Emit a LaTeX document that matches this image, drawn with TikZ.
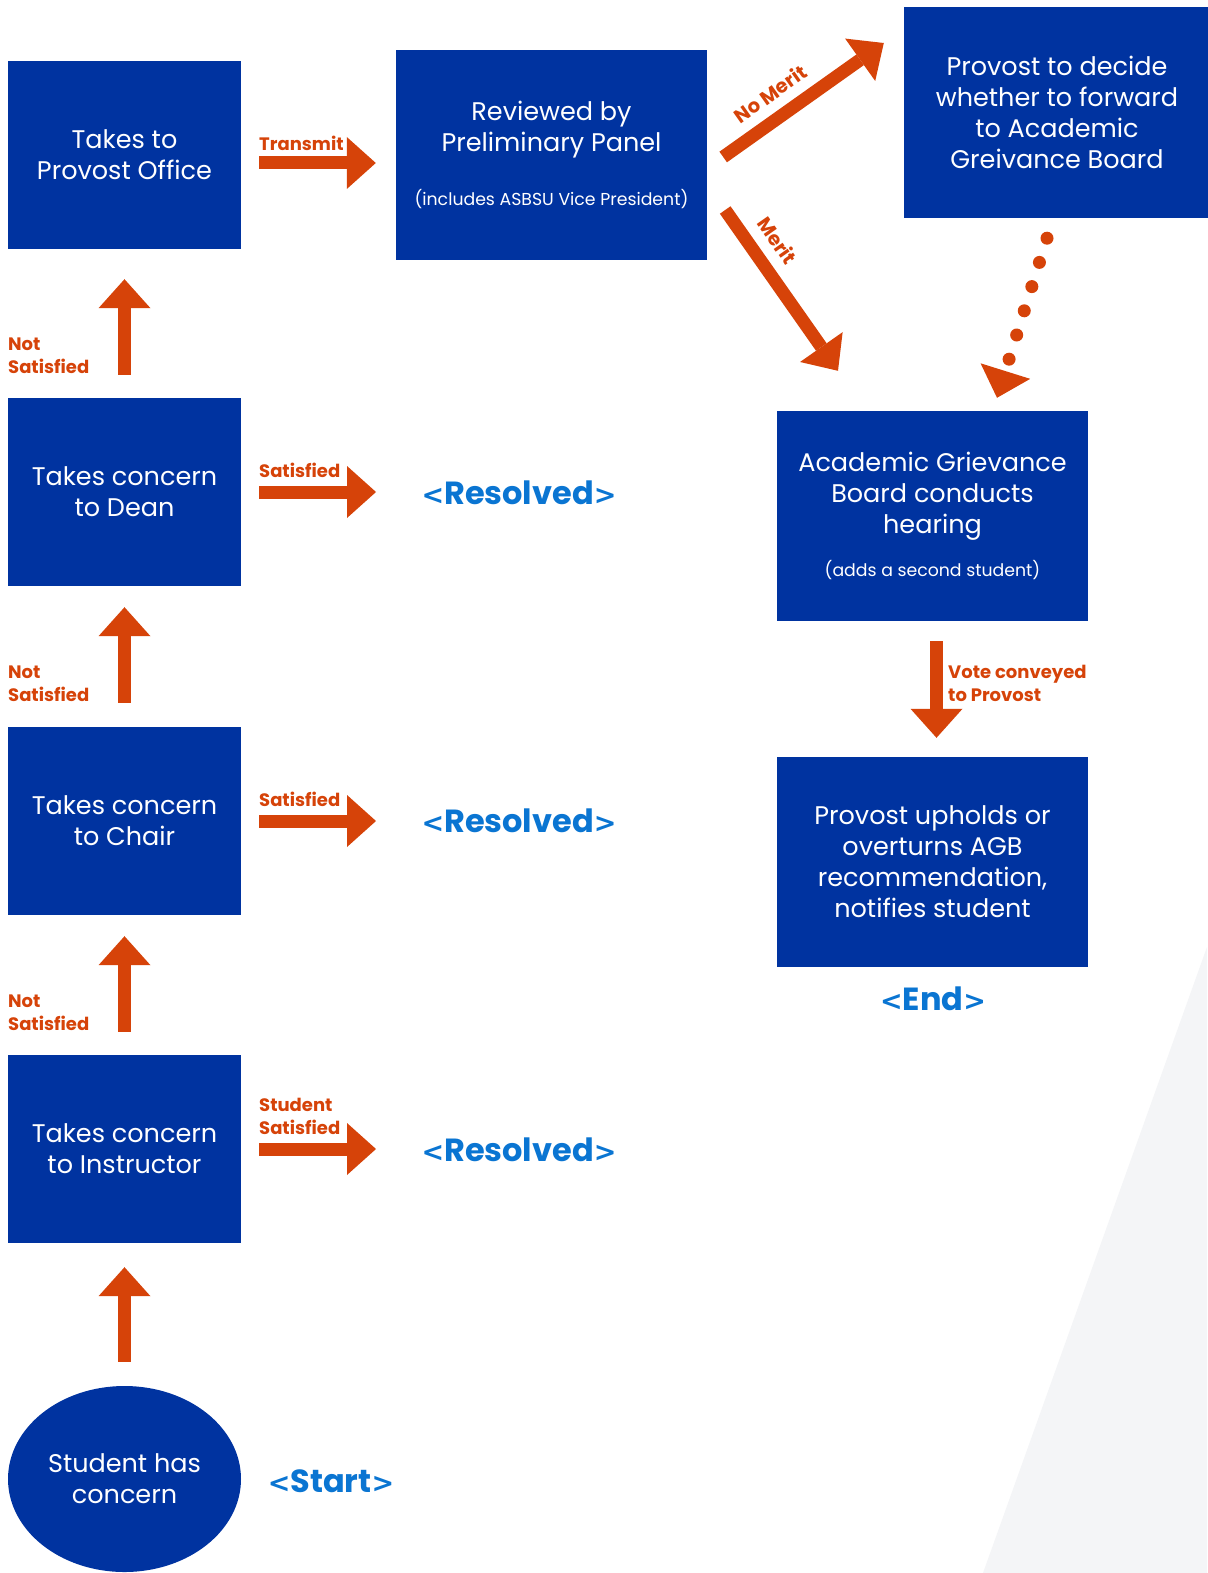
\documentclass[tikz,border=0pt]{standalone}
\usepackage{fontspec}
\setmainfont{Poppins}
\newfontfamily\chevfont{DejaVu Sans}
\usetikzlibrary{arrows.meta,calc,shapes.geometric}
\definecolor{bsblue}{HTML}{0033A0}
\definecolor{bsorange}{HTML}{D64309}
\definecolor{bslight}{HTML}{0A75D2}
\definecolor{bsgray}{HTML}{F4F5F7}
\newcommand\smallnote{\fontsize{17.3}{31}\selectfont}
\newcommand\chevL{{\chevfont\bfseries\fontsize{27}{38}\selectfont<}}
\newcommand\chevR{{\chevfont\bfseries\fontsize{27}{38}\selectfont>}}
\tikzset{
  box/.style={rectangle, fill=bsblue, text=white, inner sep=0pt, align=center,
    font=\fontsize{25.5}{31}\selectfont},
  lbox/.style={box, minimum width=233pt, minimum height=188pt},
  rbox/.style={box, minimum width=311pt, minimum height=210pt},
  lab/.style={text=bsorange, font=\bfseries\fontsize{18}{23}\selectfont, inner sep=0pt, align=left},
  dlab/.style={lab, font=\bfseries\fontsize{19.5}{23}\selectfont},
  res/.style={text=bslight, font=\bfseries\fontsize{32}{38}\selectfont, inner sep=0pt},
  bigarr/.style={draw=bsorange, line width=13pt,
    -{Triangle[length=29pt,width=52pt,line width=0pt]}},
  dotarr/.style={draw=bsorange, line width=13pt, line cap=round,
    dash pattern=on 0pt off 25.36pt,
    -{Triangle[length=28pt,width=52pt,line width=0pt]}},
}
\begin{document}
\begin{tikzpicture}[x=1pt,y=-1pt]
\useasboundingbox (0,0) rectangle (1207,1573);
\fill[white] (0,0) rectangle (1207,1573);
\fill[bsgray] (1207,947) -- (983,1573) -- (1207,1573) -- cycle;

% left column
\node[lbox] (prov)  at (124.5,155)  {Takes to\\Provost Office};
\node[lbox] (dean)  at (124.5,492)  {Takes concern\\to Dean};
\node[lbox] (chair) at (124.5,821)  {Takes concern\\to Chair};
\node[lbox] (instr) at (124.5,1149) {Takes concern\\to Instructor};
\node[ellipse, fill=bsblue, text=white, inner sep=0pt, align=center,
      font=\fontsize{25.5}{31}\selectfont, minimum width=233pt, minimum height=186pt]
      (circ) at (124.5,1479) {Student has\\concern};

% other boxes
\node[rbox] (panel) at (551.5,155) {Reviewed by\\Preliminary Panel\\[23pt]{\smallnote (includes ASBSU Vice President)}};
\node[box, minimum width=306pt, minimum height=211pt] (decide) at (1057,112.5)
  {Provost to decide\\whether to forward\\to Academic\\Greivance Board};
\node[rbox] (agb) at (932.5,516) {Academic Grievance\\Board conducts\\hearing\\[12pt]{\smallnote (adds a second student)}};
\node[rbox] (uph) at (932.5,862) {Provost upholds or\\overturns AGB\\recommendation,\\notifies student};

% status texts
\node[res] (r1) at (519,493)  {\chevL Resolved\chevR};
\node[res] (r2) at (519,821)  {\chevL Resolved\chevR};
\node[res] (r3) at (519,1150) {\chevL Resolved\chevR};
\node[res] (st) at (331,1481) {\chevL Start\chevR};
\node[res] (en) at (933,999)  {\chevL End\chevR};

% vertical arrows on the left
\draw[bigarr, shorten <=24pt, shorten >=24pt] (circ.north) -- (instr.south);
\draw[bigarr, shorten <=23pt, shorten >=21pt] (instr.north) -- (chair.south);
\draw[bigarr, shorten <=24pt, shorten >=21pt] (chair.north) -- (dean.south);
\draw[bigarr, shorten <=23pt, shorten >=30pt] (dean.north) -- (prov.south);

% horizontal arrows
\draw[bigarr, shorten <=18pt, shorten >=20pt] ([yshift=-8pt]prov.east) -- ([yshift=-8pt]panel.west);
\draw[bigarr, shorten <=18pt, shorten >=143pt] (dean.east) -- (dean.east -| r1.center);
\draw[bigarr, shorten <=18pt, shorten >=143pt] (chair.east) -- (chair.east -| r2.center);
\draw[bigarr, shorten <=18pt, shorten >=143pt] (instr.east) -- (instr.east -| r3.center);

% labels
\node[lab, anchor=west] (lt) at (259,143) {Transmit};
\node[lab, anchor=west] (l1) at (8,355.5) {Not\\Satisfied};
\node[lab, anchor=west] (l2) at (8,683.5) {Not\\Satisfied};
\node[lab, anchor=west] (l3) at (8,1012.5) {Not\\Satisfied};
\node[lab, anchor=west] (s1) at (259,470) {Satisfied};
\node[lab, anchor=west] (s2) at (259,799) {Satisfied};
\node[lab, anchor=west] (s3) at (259,1116) {Student\\Satisfied};

% diagonal arrows
\coordinate (nmA) at ($(panel.east)+(16,2)$);
\coordinate (nmB) at ($(decide.west)+(-20,-69.5)$);
\coordinate (mA)  at ($(panel.east)+(18,55)$);
\coordinate (mB)  at ($(agb.north)+(-94.5,-40)$);
\coordinate (dA)  at ($(decide.south)+(-10,20)$);
\coordinate (dT)  at ($(agb.north)+(64.5,-13)$);
\draw[bigarr] (nmA) -- node[dlab, sloped, pos=0.38, above=10pt] {No Merit} (nmB);
\draw[bigarr] (mA) -- node[dlab, sloped, pos=0.28, above=11pt] {Merit} (mB);
\draw[dotarr] (dA) -- (dT);

% vote arrow
\draw[bigarr, shorten <=20pt, shorten >=19pt] ([xshift=4pt]agb.south) -- ([xshift=4pt]uph.north);
\node[lab, anchor=west] (lv) at (948,683.5) {Vote conveyed\\to Provost};
\end{tikzpicture}
\end{document}
